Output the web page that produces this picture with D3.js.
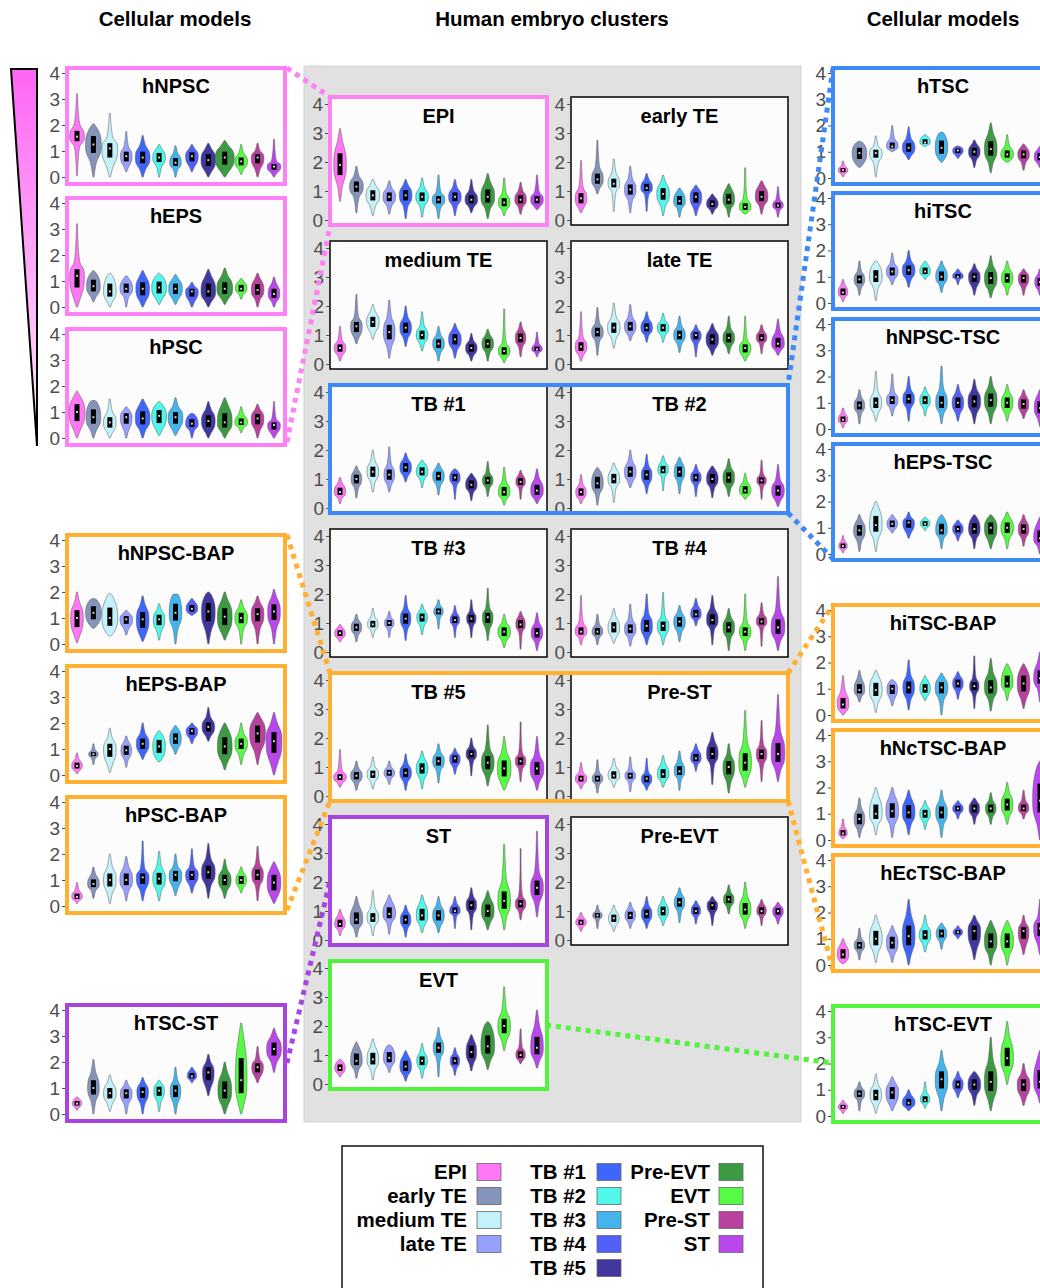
<!DOCTYPE html>
<html>
<head>
<meta charset="utf-8">
<script src="https://cdn.jsdelivr.net/npm/d3@7"></script>
<style>
  body { margin: 0; background: #fff; }
  svg { display: block; font-family: "Liberation Sans", Arial, Helvetica, sans-serif; }
</style>
</head>
<body>
<div id="chart"></div>
<script>
var clusters = ["EPI", "early TE", "medium TE", "late TE", "TB #1", "TB #2", "TB #3", "TB #4", "TB #5", "Pre-EVT", "EVT", "Pre-ST", "ST"];
var clusterColors = ["#ff77f5", "#8494bb", "#c4f2fa", "#98a0fd", "#3f66fb", "#4ff8ea", "#44b5ec", "#5060f8", "#41389f", "#3d9a44", "#55fb45", "#b8429e", "#b947ec"];
var yTicks = [0, 1, 2, 3, 4];

// each violin: [low tail, body low, median, body high, high tail, relative width]
var hNPSC = [[0.05,1.2,1.55,2.0,3.2,0.7],[0.0,0.6,1.25,1.9,2.05,0.75],[0.0,0.4,1.1,1.5,2.45,0.75],[0.2,0.4,0.8,1.15,1.75,0.55],[0.0,0.3,0.75,1.2,1.6,0.7],[0.0,0.4,0.75,1.1,1.25,0.6],[0.0,0.3,0.55,0.9,1.2,0.55],[0.2,0.4,0.8,1.1,1.25,0.6],[0.0,0.2,0.65,1.1,1.3,0.7],[0.0,0.2,0.75,1.2,1.4,0.9],[0.1,0.3,0.6,0.9,1.25,0.6],[0.0,0.3,0.75,1.0,1.3,0.6],[0.0,0.15,0.4,0.6,1.45,0.65]];
var hEPS = [[0.0,0.3,1.2,1.7,3.2,0.7],[0.2,0.4,0.8,1.3,1.4,0.65],[0.0,0.2,0.6,1.2,1.3,0.6],[0.0,0.4,0.7,1.1,1.2,0.6],[0.0,0.2,0.7,1.2,1.4,0.65],[0.1,0.3,0.75,1.2,1.3,0.7],[0.1,0.3,0.7,1.1,1.25,0.65],[0.0,0.2,0.6,0.8,0.95,0.6],[0.0,0.2,0.6,1.2,1.45,0.7],[0.1,0.3,0.7,1.2,1.5,0.75],[0.3,0.5,0.7,1.0,1.1,0.55],[0.0,0.3,0.65,1.1,1.3,0.6],[0.0,0.2,0.5,0.9,1.15,0.55]];
var hPSC = [[0.0,0.3,1.0,1.6,1.8,0.75],[0.0,0.3,0.8,1.4,1.45,0.7],[0.0,0.2,0.6,1.0,1.5,0.6],[0.0,0.3,0.8,1.1,1.2,0.55],[0.0,0.3,0.75,1.3,1.5,0.7],[0.1,0.3,0.85,1.3,1.4,0.7],[0.1,0.3,0.8,1.2,1.55,0.7],[0.0,0.3,0.55,0.9,0.95,0.6],[0.0,0.2,0.65,1.1,1.4,0.65],[0.0,0.2,0.6,1.3,1.55,0.7],[0.2,0.4,0.6,0.9,1.2,0.6],[0.0,0.3,0.75,1.1,1.3,0.6],[0.0,0.15,0.5,0.7,1.4,0.6]];
var hNPSCBAP = [[0.05,0.3,1.0,1.6,2.0,0.6],[0.6,0.7,1.2,1.7,1.75,0.75],[0.3,0.4,1.0,1.8,1.95,0.75],[0.35,0.6,0.95,1.2,1.3,0.6],[0.1,0.3,0.95,1.5,1.85,0.6],[0.15,0.5,0.95,1.3,1.55,0.55],[0.0,0.6,1.2,1.9,1.92,0.6],[1.1,1.15,1.35,1.65,1.75,0.55],[0.0,0.5,1.25,1.9,2.0,0.65],[0.15,0.4,1.05,1.7,2.0,0.7],[0.0,0.6,1.0,1.4,1.7,0.6],[0.0,0.6,1.15,1.6,1.85,0.6],[0.0,0.6,1.25,1.8,2.1,0.6]];
var hEPSBAP = [[0.05,0.15,0.35,0.6,0.85,0.5],[0.4,0.65,0.8,0.95,1.2,0.45],[0.1,0.4,1.0,1.4,1.8,0.6],[0.3,0.6,0.95,1.3,1.5,0.5],[0.6,0.8,1.2,1.6,2.0,0.6],[0.5,0.6,1.1,1.6,1.7,0.6],[0.8,1.0,1.4,1.8,1.9,0.55],[1.2,1.4,1.7,1.9,2.0,0.55],[1.3,1.5,1.85,2.2,2.6,0.6],[0.2,0.5,1.1,1.8,2.0,0.7],[0.4,0.8,1.2,1.6,2.0,0.6],[0.4,0.9,1.6,2.2,2.4,0.75],[0.0,0.4,1.3,2.0,2.4,0.75]];
var hPSCBAP = [[0.1,0.2,0.35,0.6,0.9,0.5],[0.3,0.6,0.85,1.2,1.5,0.55],[0.1,0.5,1.0,1.5,2.0,0.6],[0.2,0.6,1.0,1.5,1.9,0.6],[0.2,0.6,1.1,1.4,2.5,0.6],[0.2,0.6,1.05,1.5,2.1,0.6],[0.4,0.7,1.2,1.5,2.0,0.6],[0.5,0.8,1.2,1.5,2.2,0.6],[0.3,0.8,1.3,1.8,2.4,0.65],[0.3,0.6,1.0,1.4,1.8,0.6],[0.5,0.7,1.0,1.3,1.5,0.5],[0.2,0.8,1.2,1.6,2.3,0.55],[0.1,0.3,0.9,1.5,1.7,0.65]];
var hTSCST = [[0.15,0.25,0.4,0.6,0.65,0.45],[0.0,0.5,1.0,1.6,2.1,0.55],[0.1,0.4,0.8,1.2,1.5,0.6],[0.0,0.4,0.8,1.1,1.3,0.55],[0.0,0.4,0.85,1.2,1.4,0.55],[0.1,0.5,0.9,1.2,1.3,0.5],[0.0,0.4,0.9,1.3,1.8,0.5],[1.2,1.3,1.45,1.7,1.8,0.45],[0.7,1.0,1.6,2.0,2.3,0.55],[0.0,0.3,0.9,1.6,2.0,0.65],[0.0,0.3,1.3,3.0,3.5,0.55],[1.2,1.4,1.8,2.1,2.6,0.55],[1.6,2.0,2.5,3.0,3.3,0.7]];

var EPI = [[0.65,1.2,1.9,2.7,3.15,0.6],[0.25,0.8,1.15,1.5,1.85,0.65],[0.15,0.5,0.85,1.2,1.4,0.65],[0.2,0.5,0.8,1.1,1.35,0.6],[0.05,0.5,0.85,1.2,1.4,0.6],[0.1,0.5,0.8,1.1,1.45,0.6],[0.05,0.45,0.7,0.95,1.55,0.6],[0.15,0.5,0.8,1.1,1.4,0.6],[0.25,0.45,0.7,1.0,1.4,0.6],[0.05,0.4,0.8,1.3,1.6,0.65],[0.15,0.35,0.6,0.9,1.45,0.55],[0.2,0.45,0.7,1.0,1.3,0.55],[0.35,0.45,0.7,0.95,1.55,0.6]];
var earlyTE = [[0.25,0.4,0.75,1.1,2.05,0.55],[0.9,1.1,1.4,1.8,2.75,0.55],[0.3,1.0,1.25,1.6,2.1,0.55],[0.25,0.7,1.05,1.4,1.85,0.55],[0.3,0.9,1.1,1.4,1.6,0.55],[0.15,0.5,0.9,1.3,1.55,0.6],[0.1,0.4,0.65,1.0,1.1,0.55],[0.15,0.4,0.8,1.1,1.2,0.55],[0.2,0.35,0.55,0.8,0.9,0.55],[0.1,0.4,0.7,1.1,1.25,0.55],[0.2,0.25,0.45,0.7,1.8,0.55],[0.2,0.5,0.8,1.2,1.35,0.6],[0.1,0.35,0.5,0.7,1.15,0.5]];
var mediumTE = [[0.1,0.3,0.55,0.8,1.3,0.55],[0.7,0.9,1.3,1.6,2.4,0.55],[0.85,1.1,1.45,1.8,2.05,0.6],[0.2,0.6,1.1,1.6,2.2,0.55],[0.6,0.9,1.25,1.6,2.0,0.55],[0.45,0.7,1.0,1.3,1.8,0.55],[0.1,0.4,0.7,1.0,1.3,0.55],[0.2,0.5,0.85,1.2,1.4,0.6],[0.1,0.3,0.55,0.8,1.05,0.55],[0.1,0.4,0.7,1.0,1.2,0.55],[0.05,0.2,0.45,0.7,1.9,0.55],[0.25,0.6,0.9,1.2,1.45,0.5],[0.25,0.4,0.5,0.7,1.1,0.5]];
var lateTE = [[0.1,0.3,0.6,0.9,1.8,0.55],[0.3,0.8,1.1,1.4,1.95,0.55],[0.55,0.9,1.25,1.6,2.1,0.6],[0.8,1.0,1.3,1.6,2.05,0.55],[0.75,1.0,1.25,1.55,1.8,0.55],[0.75,1.0,1.25,1.5,1.75,0.55],[0.4,0.7,1.0,1.3,1.65,0.55],[0.25,0.7,1.0,1.2,1.35,0.5],[0.3,0.5,0.85,1.2,1.4,0.6],[0.35,0.6,0.9,1.2,1.65,0.55],[0.1,0.25,0.55,0.8,1.65,0.55],[0.35,0.7,0.9,1.15,1.35,0.5],[0.3,0.45,0.7,1.1,1.55,0.6]];
var TB1 = [[0.15,0.35,0.55,0.85,1.05,0.55],[0.35,0.7,1.0,1.3,1.45,0.5],[0.55,0.9,1.25,1.6,2.0,0.55],[0.55,0.8,1.15,1.5,2.1,0.5],[0.9,1.1,1.4,1.7,1.9,0.55],[0.7,1.0,1.25,1.55,1.65,0.55],[0.45,0.8,1.1,1.4,1.55,0.55],[0.3,0.8,1.05,1.3,1.35,0.5],[0.25,0.55,0.8,1.1,1.2,0.55],[0.4,0.7,0.95,1.2,1.6,0.5],[0.1,0.3,0.55,0.9,1.4,0.55],[0.3,0.7,0.9,1.15,1.3,0.45],[0.15,0.3,0.6,1.0,1.35,0.6]];
var TB2 = [[0.15,0.3,0.55,0.8,1.15,0.5],[0.1,0.5,0.85,1.3,1.4,0.55],[0.2,0.7,1.0,1.35,1.55,0.55],[0.7,0.9,1.25,1.6,2.0,0.55],[0.5,0.8,1.15,1.45,1.85,0.5],[0.6,1.1,1.3,1.6,1.8,0.5],[0.5,0.9,1.25,1.6,1.75,0.5],[0.4,0.8,1.05,1.3,1.5,0.5],[0.35,0.7,1.0,1.35,1.45,0.55],[0.4,0.7,1.05,1.4,1.7,0.55],[0.3,0.4,0.6,0.9,1.2,0.55],[0.3,0.75,0.95,1.15,1.65,0.45],[0.05,0.25,0.6,0.95,1.5,0.6]];
var TB3 = [[0.35,0.45,0.65,0.85,0.95,0.5],[0.35,0.6,0.85,1.1,1.3,0.5],[0.5,0.75,0.95,1.2,1.5,0.5],[0.5,0.8,1.0,1.2,1.4,0.45],[0.4,0.8,1.15,1.5,1.95,0.5],[0.6,0.9,1.2,1.45,1.65,0.5],[0.8,1.2,1.4,1.6,1.8,0.45],[0.5,0.9,1.1,1.35,1.6,0.45],[0.5,0.9,1.15,1.4,1.8,0.45],[0.4,0.8,1.2,1.5,2.2,0.5],[0.15,0.4,0.7,1.0,1.3,0.6],[0.1,0.7,0.95,1.25,1.4,0.45],[0.05,0.35,0.65,1.0,1.35,0.55]];
var TB4 = [[0.25,0.5,0.7,1.0,1.95,0.55],[0.25,0.5,0.7,0.95,1.3,0.5],[0.3,0.5,0.85,1.2,1.5,0.55],[0.2,0.5,0.8,1.1,1.65,0.55],[0.25,0.5,0.9,1.3,2.0,0.55],[0.25,0.55,0.9,1.2,2.05,0.55],[0.35,0.7,1.05,1.35,1.6,0.55],[0.9,1.1,1.3,1.6,1.85,0.5],[0.25,0.8,1.1,1.5,1.95,0.55],[0.05,0.5,0.85,1.2,1.5,0.55],[0.05,0.4,0.7,1.0,2.0,0.55],[0.2,0.85,1.05,1.3,1.7,0.5],[0.05,0.4,0.85,1.4,2.6,0.65]];
var TB5 = [[0.3,0.45,0.65,0.85,1.6,0.6],[0.2,0.45,0.7,0.95,1.2,0.55],[0.25,0.5,0.75,1.0,1.35,0.55],[0.4,0.6,0.8,1.0,1.2,0.5],[0.2,0.5,0.8,1.1,1.45,0.55],[0.25,0.6,0.95,1.3,1.55,0.55],[0.45,0.9,1.2,1.5,1.8,0.55],[0.75,1.0,1.3,1.5,1.65,0.5],[0.7,1.2,1.45,1.7,2.0,0.5],[0.35,0.7,1.15,1.6,2.45,0.6],[0.2,0.4,0.95,1.5,2.05,0.65],[0.5,0.95,1.2,1.45,2.55,0.5],[0.2,0.5,0.95,1.4,2.05,0.65]];
var PreST = [[0.25,0.4,0.6,0.8,1.15,0.55],[0.1,0.4,0.6,0.8,1.25,0.5],[0.3,0.5,0.7,1.0,1.3,0.55],[0.15,0.5,0.7,0.9,1.35,0.5],[0.2,0.35,0.6,0.8,1.3,0.5],[0.3,0.5,0.75,1.1,1.4,0.55],[0.2,0.6,0.85,1.2,1.55,0.5],[0.85,1.1,1.3,1.6,1.8,0.5],[0.4,1.1,1.45,1.9,2.2,0.55],[0.1,0.5,1.0,1.4,1.8,0.55],[0.3,0.6,1.15,1.8,2.95,0.6],[0.5,1.1,1.45,1.75,2.6,0.5],[0.5,0.9,1.45,2.2,3.5,0.65]];
var ST = [[0.15,0.35,0.55,0.85,1.05,0.5],[0.1,0.4,0.7,1.2,1.5,0.6],[0.15,0.5,0.75,1.1,1.7,0.55],[0.2,0.6,0.9,1.35,1.55,0.6],[0.1,0.4,0.7,1.0,1.2,0.5],[0.25,0.5,0.85,1.3,1.55,0.55],[0.25,0.5,0.85,1.2,1.5,0.55],[0.4,0.85,1.0,1.25,1.5,0.5],[0.35,0.9,1.2,1.5,1.8,0.5],[0.35,0.6,1.0,1.45,1.7,0.6],[0.35,0.8,1.35,2.0,3.3,0.6],[0.7,1.0,1.25,1.5,3.15,0.5],[0.8,1.3,1.8,2.3,3.75,0.6]];
var PreEVT = [[0.3,0.45,0.6,0.8,0.95,0.5],[0.4,0.7,0.85,1.0,1.2,0.45],[0.3,0.5,0.75,1.0,1.2,0.5],[0.4,0.6,0.85,1.1,1.3,0.5],[0.4,0.6,0.9,1.2,1.5,0.5],[0.5,0.7,1.0,1.3,1.5,0.5],[0.6,1.0,1.3,1.6,1.8,0.5],[0.55,0.8,1.0,1.25,1.35,0.45],[0.5,0.9,1.2,1.4,1.5,0.5],[0.9,1.15,1.4,1.65,1.9,0.5],[0.4,0.7,1.05,1.5,2.0,0.55],[0.5,0.8,1.0,1.25,1.4,0.45],[0.55,0.75,1.0,1.2,1.3,0.5]];
var EVT = [[0.25,0.35,0.55,0.8,0.85,0.5],[0.2,0.5,0.8,1.3,1.45,0.55],[0.15,0.5,0.85,1.3,1.55,0.55],[0.4,0.6,0.9,1.3,1.35,0.55],[0.1,0.3,0.6,1.0,1.15,0.55],[0.2,0.5,0.8,1.1,1.4,0.5],[0.25,0.9,1.25,1.6,1.95,0.5],[0.3,0.55,0.8,1.05,1.25,0.45],[0.45,0.7,1.1,1.55,1.7,0.5],[0.5,0.8,1.3,2.05,2.15,0.65],[1.15,1.5,2.0,2.5,3.35,0.6],[0.7,0.8,1.0,1.25,1.9,0.45],[0.55,0.8,1.25,2.0,2.55,0.6]];

var hTSC = [[0.05,0.15,0.3,0.45,0.65,0.45],[0.4,0.5,0.95,1.35,1.4,0.7],[0.05,0.6,0.95,1.2,1.6,0.6],[1.0,1.05,1.2,1.5,2.0,0.55],[0.7,0.85,1.15,1.5,1.95,0.6],[1.2,1.25,1.35,1.6,1.65,0.5],[0.6,0.7,1.15,1.7,1.75,0.6],[0.75,0.85,1.05,1.2,1.22,0.5],[0.4,0.7,1.0,1.3,1.45,0.55],[0.2,0.6,1.1,1.7,2.1,0.6],[0.6,0.65,0.9,1.2,1.65,0.6],[0.3,0.6,0.9,1.2,1.3,0.55],[0.4,0.55,0.8,1.1,1.2,0.55]];
var hiTSC = [[0.05,0.2,0.4,0.7,0.9,0.45],[0.3,0.6,0.9,1.2,1.6,0.5],[0.1,0.6,1.0,1.5,1.6,0.6],[0.7,0.9,1.2,1.5,1.9,0.55],[0.6,0.9,1.25,1.6,2.0,0.6],[0.9,1.0,1.2,1.5,1.6,0.5],[0.4,0.7,1.0,1.4,1.6,0.55],[0.7,0.9,1.0,1.2,1.3,0.5],[0.3,0.6,1.0,1.3,1.5,0.55],[0.2,0.5,0.95,1.4,1.8,0.6],[0.3,0.6,0.95,1.3,1.6,0.55],[0.3,0.6,0.95,1.2,1.3,0.5],[0.3,0.5,0.8,1.1,1.3,0.5]];
var hNPSCTSC = [[0.05,0.2,0.35,0.6,0.8,0.45],[0.2,0.6,0.9,1.2,1.5,0.5],[0.3,0.6,1.0,1.4,2.2,0.55],[0.5,0.8,1.1,1.4,2.1,0.55],[0.3,0.8,1.15,1.5,2.0,0.55],[0.5,0.8,1.1,1.4,1.6,0.5],[0.2,0.6,1.0,1.5,2.4,0.55],[0.3,0.6,1.0,1.4,1.7,0.55],[0.2,0.6,1.05,1.5,1.9,0.6],[0.2,0.6,1.1,1.6,2.0,0.6],[0.3,0.6,1.0,1.4,1.7,0.55],[0.4,0.6,0.95,1.3,1.5,0.5],[0.1,0.4,0.8,1.3,1.5,0.55]];
var hEPSTSC = [[0.05,0.15,0.3,0.5,0.7,0.4],[0.1,0.5,0.9,1.3,1.5,0.55],[0.1,0.6,1.1,1.8,2.0,0.6],[0.8,0.9,1.15,1.4,1.5,0.5],[0.6,0.8,1.2,1.4,1.6,0.55],[0.9,1.0,1.15,1.35,1.4,0.45],[0.2,0.6,0.9,1.4,1.5,0.55],[0.5,0.7,0.95,1.2,1.3,0.5],[0.2,0.6,0.95,1.4,1.5,0.55],[0.2,0.5,1.0,1.4,1.5,0.6],[0.2,0.6,1.0,1.4,1.6,0.6],[0.3,0.6,0.95,1.3,1.5,0.5],[0.0,0.3,0.6,1.2,1.4,0.6]];
var hiTSCBAP = [[0.0,0.1,0.4,0.9,1.5,0.55],[0.5,0.7,0.95,1.4,1.7,0.5],[0.1,0.5,0.95,1.5,1.7,0.6],[0.35,0.6,1.0,1.3,1.35,0.5],[0.2,0.6,1.05,1.5,2.1,0.55],[0.55,0.7,1.0,1.35,1.5,0.5],[0.0,0.6,1.05,1.45,1.6,0.6],[0.6,0.9,1.2,1.5,1.65,0.5],[0.25,0.8,1.1,1.4,2.25,0.45],[0.15,0.6,1.05,1.6,2.15,0.6],[0.55,0.9,1.2,1.8,1.95,0.55],[0.25,0.6,1.2,1.8,1.95,0.6],[0.5,1.0,1.4,2.0,2.4,0.6]];
var hNcTSCBAP = [[0.05,0.1,0.25,0.5,0.8,0.4],[0.1,0.4,0.8,1.2,1.6,0.5],[0.2,0.6,1.0,1.7,2.0,0.6],[0.1,0.6,1.1,1.7,2.0,0.6],[0.2,0.6,1.05,1.6,1.9,0.6],[0.4,0.7,1.0,1.3,1.5,0.5],[0.1,0.6,1.05,1.5,1.9,0.55],[0.8,1.0,1.2,1.4,1.5,0.5],[0.6,0.9,1.2,1.5,1.6,0.5],[0.6,0.9,1.2,1.5,1.8,0.5],[0.6,0.9,1.35,1.8,2.2,0.55],[0.8,1.0,1.2,1.5,1.9,0.5],[0.0,0.6,1.5,2.8,3.0,0.7]];
var hEcTSCBAP = [[0.05,0.1,0.4,0.8,1.0,0.55],[0.2,0.5,0.75,1.0,1.4,0.5],[0.1,0.5,1.0,1.6,1.9,0.6],[0.1,0.4,0.85,1.3,1.5,0.55],[0.0,0.4,1.1,1.9,2.5,0.6],[0.5,0.8,1.15,1.5,1.9,0.55],[0.6,0.9,1.2,1.5,1.6,0.5],[1.0,1.1,1.25,1.4,1.5,0.45],[0.2,0.6,1.3,1.7,1.9,0.6],[0.0,0.4,0.9,1.5,1.7,0.6],[0.0,0.4,0.9,1.5,1.7,0.6],[0.4,0.7,1.3,1.6,1.9,0.5],[0.4,0.8,1.4,1.8,2.5,0.6]];
var hTSCEVT = [[0.1,0.2,0.35,0.5,0.6,0.45],[0.2,0.6,0.85,1.1,1.3,0.5],[0.1,0.4,0.8,1.2,1.6,0.55],[0.2,0.4,0.9,1.3,1.5,0.6],[0.2,0.3,0.5,0.8,1.0,0.6],[0.3,0.45,0.6,0.9,1.3,0.45],[0.2,0.7,1.4,2.0,2.5,0.6],[0.7,0.9,1.2,1.5,1.7,0.5],[0.4,0.8,1.2,1.6,1.7,0.6],[0.2,0.6,1.3,2.1,3.0,0.6],[1.2,1.6,2.2,3.0,3.6,0.6],[0.4,0.7,1.2,1.6,2.0,0.6],[0.5,0.8,1.3,2.2,2.5,0.6]];

var svg = d3.select("#chart").append("svg")
  .attr("width", 1040)
  .attr("height", 1288);

var defs = svg.append("defs");
var grad = defs.append("linearGradient")
  .attr("id", "pinkRamp")
  .attr("x1", 0).attr("y1", 0).attr("x2", 0).attr("y2", 1);
grad.append("stop").attr("offset", "0%").attr("stop-color", "#ff66f4");
grad.append("stop").attr("offset", "100%").attr("stop-color", "#ffeafc");

var pink = "#ff80f7", blue = "#3d8af7", orange = "#ffb030", purple = "#a845e0", green = "#52f23f";

// column headings
var headings = [["Cellular models", 175], ["Human embryo clusters", 552], ["Cellular models", 943]];
svg.selectAll(".heading").data(headings).enter().append("text")
  .attr("class", "heading")
  .attr("x", d => d[1])
  .attr("y", 26)
  .attr("text-anchor", "middle")
  .attr("font-size", 20.5)
  .attr("font-weight", "bold")
  .text(d => d[0]);

// grey background behind the embryo clusters
svg.append("rect")
  .attr("x", 304).attr("y", 66)
  .attr("width", 497).attr("height", 1056)
  .attr("fill", "#e1e1e1")
  .attr("stroke", "#d2d2d2");

// gradient wedge on the left
svg.append("path")
  .attr("d", "M11,69 L37,69 L37,446 Z")
  .attr("fill", "url(#pinkRamp)")
  .attr("stroke", "#000")
  .attr("stroke-width", 2)
  .attr("stroke-linejoin", "miter");

var halfW = 10.5;

function profile(v) {
  var lo = v[0], b0 = v[1], m = v[2], b1 = v[3], hi = v[4], w = v[5];
  return [[lo, 0.05], [b0, 0.42 * w], [(b0 + m) / 2, 0.9 * w], [m, w], [(m + b1) / 2, 0.9 * w], [b1, 0.42 * w], [hi, 0.05]];
}

function drawPanel(p) {
  var g = svg.append("g");
  g.append("rect")
    .attr("x", p.x).attr("y", p.y)
    .attr("width", p.w).attr("height", p.h)
    .attr("fill", "#fcfcfc")
    .attr("stroke", p.stroke)
    .attr("stroke-width", p.sw);

  var y = d3.scaleLinear().domain([0, 4]).range([p.y + p.h - p.pb, p.y + p.pt]);
  var x = d3.scalePoint().domain(clusters).range([p.x + 10, p.x + 207]);

  var axis = g.append("g")
    .attr("transform", `translate(${p.x - p.sw / 2},0)`)
    .attr("font-size", 19)
    .call(d3.axisLeft(y).tickValues(yTicks).tickSize(3).tickPadding(2).tickFormat(d3.format("d")));
  axis.attr("font-size", 19).attr("font-family", "'Liberation Sans', Arial, sans-serif");
  axis.select(".domain").remove();
  axis.selectAll("line").attr("stroke", "#4d4d4d");
  axis.selectAll("text")
    .style("font-size", "19px")
    .attr("fill", "#4d4d4d");

  g.append("text")
    .attr("x", p.x + p.w / 2)
    .attr("y", p.y + p.ty)
    .attr("text-anchor", "middle")
    .attr("font-size", 20)
    .attr("font-weight", "bold")
    .text(p.name);

  p.data.forEach(function(v, i) {
    var cx = x(clusters[i]);
    var area = d3.area()
      .curve(d3.curveCatmullRom.alpha(0.5))
      .y(d => y(d[0]))
      .x0(d => cx - d[1] * halfW)
      .x1(d => cx + d[1] * halfW);
    g.append("path")
      .attr("d", area(profile(v)))
      .attr("fill", clusterColors[i])
      .attr("stroke", "#555")
      .attr("stroke-width", 0.5);
    var q1 = v[2] - (v[2] - v[1]) * 0.5;
    var q3 = v[2] + (v[3] - v[2]) * 0.5;
    g.append("rect")
      .attr("x", cx - 2.5).attr("width", 5)
      .attr("y", y(q3)).attr("height", y(q1) - y(q3))
      .attr("fill", "#000");
    g.append("rect")
      .attr("x", cx - 1).attr("width", 2)
      .attr("y", y(v[2]) - 1).attr("height", 2)
      .attr("fill", "#cfcfcf");
  });
}

// cellular models, left column
var leftPanels = [
  ["hNPSC", hNPSC, 68, pink], ["hEPS", hEPS, 198, pink], ["hPSC", hPSC, 329, pink],
  ["hNPSC-BAP", hNPSCBAP, 535, orange], ["hEPS-BAP", hEPSBAP, 666, orange], ["hPSC-BAP", hPSCBAP, 797, orange],
  ["hTSC-ST", hTSCST, 1005, purple]
];
leftPanels.forEach(function(d) {
  drawPanel({name: d[0], data: d[1], x: 67, y: d[2], w: 218, h: 116, pt: 5, pb: 7, ty: 25, stroke: d[3], sw: 4});
});

// cellular models, right column
var rightPanels = [
  ["hTSC", hTSC, 68, blue], ["hiTSC", hiTSC, 193, blue], ["hNPSC-TSC", hNPSCTSC, 319, blue], ["hEPS-TSC", hEPSTSC, 444, blue],
  ["hiTSC-BAP", hiTSCBAP, 605, orange], ["hNcTSC-BAP", hNcTSCBAP, 730, orange], ["hEcTSC-BAP", hEcTSCBAP, 855, orange],
  ["hTSC-EVT", hTSCEVT, 1006, green]
];
rightPanels.forEach(function(d) {
  drawPanel({name: d[0], data: d[1], x: 833, y: d[2], w: 220, h: 116, pt: 5, pb: 6, ty: 25, stroke: d[3], sw: 4});
});

// embryo clusters, middle grid [name, data, row, col, border]
var midPanels = [
  ["EPI", EPI, 0, 0, pink], ["early TE", earlyTE, 0, 1, null],
  ["medium TE", mediumTE, 1, 0, null], ["late TE", lateTE, 1, 1, null],
  ["TB #1", TB1, 2, 0, null], ["TB #2", TB2, 2, 1, null],
  ["TB #3", TB3, 3, 0, null], ["TB #4", TB4, 3, 1, null],
  ["TB #5", TB5, 4, 0, null], ["Pre-ST", PreST, 4, 1, null],
  ["ST", ST, 5, 0, purple], ["Pre-EVT", PreEVT, 5, 1, null],
  ["EVT", EVT, 6, 0, green]
];
var rowTop = r => 97 + 144 * r;
midPanels.forEach(function(d) {
  drawPanel({name: d[0], data: d[1], x: d[3] ? 571 : 330, y: rowTop(d[2]), w: 217, h: 128, pt: 7, pb: 5, ty: 26,
    stroke: d[4] || "#111", sw: d[4] ? 4 : 1.6});
});

// highlight frames around paired clusters
[[2, blue], [4, orange]].forEach(function(d) {
  svg.append("rect")
    .attr("x", 330).attr("y", rowTop(d[0]))
    .attr("width", 458).attr("height", 128)
    .attr("fill", "none")
    .attr("stroke", d[1])
    .attr("stroke-width", 4);
});

// dotted connectors
var links = [
  [287, 68, 330, 97, pink], [287, 442, 330, 226, pink],
  [833, 68, 788, 385, blue], [788, 513, 833, 559, blue],
  [287, 535, 330, 673, orange], [287, 910, 330, 801, orange],
  [788, 673, 833, 605, orange], [788, 801, 833, 970, orange],
  [287, 1063, 330, 881, purple],
  [546, 1025, 833, 1063, green]
];
svg.selectAll(".link").data(links).enter().append("line")
  .attr("class", "link")
  .attr("x1", d => d[0]).attr("y1", d => d[1])
  .attr("x2", d => d[2]).attr("y2", d => d[3])
  .attr("stroke", d => d[4])
  .attr("stroke-width", 5)
  .attr("stroke-dasharray", "5,5");

// legend
var legend = svg.append("g");
legend.append("rect")
  .attr("x", 342).attr("y", 1146)
  .attr("width", 421).attr("height", 160)
  .attr("fill", "#fff")
  .attr("stroke", "#111")
  .attr("stroke-width", 1.5);
var legendCols = [[0, 4, 467, 477], [4, 9, 586, 597], [9, 13, 710, 719]];
legendCols.forEach(function(c) {
  d3.range(c[0], c[1]).forEach(function(i, k) {
    var cy = 1172 + 24 * k;
    legend.append("text")
      .attr("x", c[2]).attr("y", cy + 7)
      .attr("text-anchor", "end")
      .attr("font-size", 20.5)
      .attr("font-weight", "bold")
      .text(clusters[i]);
    legend.append("rect")
      .attr("x", c[3]).attr("y", cy - 8.5)
      .attr("width", 24).attr("height", 17)
      .attr("fill", clusterColors[i])
      .attr("stroke", "#666")
      .attr("stroke-width", 0.8);
  });
});
</script>
</body>
</html>
